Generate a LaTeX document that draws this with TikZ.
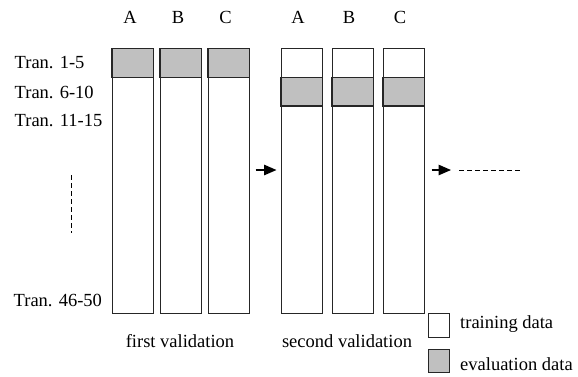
\documentclass[tikz,border=0pt]{standalone}
\usepackage{fontspec}
\setmainfont{Liberation Serif}
\usetikzlibrary{arrows.meta}
\definecolor{evalgray}{HTML}{C0C0C0}
\begin{document}
\begin{tikzpicture}[x=1pt,y=-1pt,
  colbox/.style={draw=black!85,line width=1pt,fill=white,inner sep=0pt,outer sep=0pt,
    minimum width=41.7pt,minimum height=265.2pt,anchor=north west},
  evalband/.style={draw=black!85,line width=1.2pt,fill=evalgray,inner sep=0pt,outer sep=0pt,
    minimum width=41.7pt,minimum height=28.8pt,anchor=north west},
  trainband/.style={evalband,fill=white},
  lbl/.style={inner sep=0pt,font=\fontsize{18.5}{20}\selectfont},
  stepgo/.style={line width=1.3pt,-{Triangle[length=12.5pt,width=10.5pt]}},
  dashline/.style={line width=0.8pt,dash pattern=on 5pt off 3pt}]
\useasboundingbox (0,0) rectangle (578,376);
% first validation columns
\node[colbox] (fa) at (112,48.3) {};
\node[colbox] (fb) at (160,48.3) {};
\node[colbox] (fc) at (208,48.3) {};
\node[evalband] (fae) at (112,48.3) {};
\node[evalband] (fbe) at (160,48.3) {};
\node[evalband] (fce) at (208,48.3) {};
% second validation columns
\node[colbox] (sa) at (281,48.3) {};
\node[colbox] (sb) at (332,48.3) {};
\node[colbox] (sc) at (383,48.3) {};
\node[evalband] (sae) at (281,77.1) {};
\node[evalband] (sbe) at (332,77.1) {};
\node[evalband] (sce) at (383,77.1) {};
% column headers
\node[lbl] (ha1) at (130,17) {A};
\node[lbl] (hb1) at (178,17) {B};
\node[lbl] (hc1) at (225.5,17) {C};
\node[lbl] (ha2) at (298,17) {A};
\node[lbl] (hb2) at (349,17) {B};
\node[lbl] (hc2) at (400,17) {C};
% row labels
\node[lbl,anchor=west] (r1) at (14.5,63) {Tran. 1-5};
\node[lbl,anchor=west] (r2) at (14.5,92) {Tran. 6-10};
\node[lbl,anchor=west] (r3) at (14.5,120.5) {Tran. 11-15};
\node[lbl,anchor=west] (r10) at (13.5,300) {Tran. 46-50};
% vertical dots
\coordinate (vd1) at (71,175);
\coordinate (vd2) at (71,233);
\draw[dashline] (vd1) -- (vd2);
% arrows
\coordinate (a1s) at (255.5,170);
\coordinate (a1e) at (276.5,170);
\draw[stepgo] (a1s) -- (a1e);
\coordinate (a2s) at (431.5,170);
\coordinate (a2e) at (451,170);
\draw[stepgo] (a2s) -- (a2e);
\coordinate (d1) at (459,170);
\coordinate (d2) at (522,170);
\draw[dashline] (d1) -- (d2);
% captions
\node[lbl] (cap1) at (180,341.5) {first validation};
\node[lbl] (cap2) at (347,341.5) {second validation};
% legend
\node[draw=black!85,line width=1pt,fill=white,inner sep=0pt,minimum width=21pt,minimum height=24pt,anchor=north west] (legt) at (428.3,313.3) {};
\node[draw=black!85,line width=1pt,fill=evalgray,inner sep=0pt,minimum width=21pt,minimum height=22.4pt,anchor=north west] (lege) at (428.3,349.3) {};
\node[lbl,anchor=west] (legtt) at (460,324) {training data};
\node[lbl,anchor=west] (leget) at (460,364.5) {evaluation data};
\end{tikzpicture}
\end{document}
